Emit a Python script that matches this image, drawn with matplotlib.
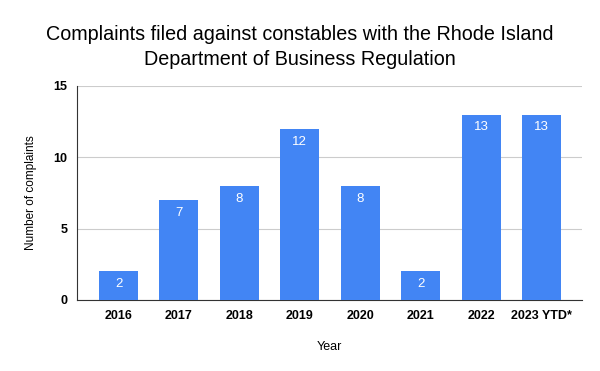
import matplotlib.pyplot as plt

years = ["2016", "2017", "2018", "2019", "2020", "2021", "2022", "2023 YTD*"]
complaints = [2, 7, 8, 12, 8, 2, 13, 13]

plt.rcParams['font.family'] = ['Liberation Sans', 'DejaVu Sans']

fig = plt.figure(figsize=(6, 3.71), dpi=100)
ax = fig.add_axes([77/600, 1-300/371, 505/600, 214/371])

x = range(len(years))
bars = ax.bar(x, complaints, width=0.645, color='#4285f4', zorder=3)
for b, v in zip(bars, complaints):
    ax.text(b.get_x() + b.get_width()/2, v - 0.9, str(v), ha='center', va='center',
            color='white', fontsize=9.5, zorder=4)

ax.set_xlim(-0.687, 7.67)
ax.set_ylim(0, 15)
ax.set_yticks([0, 5, 10, 15])
ax.set_xticks(list(x))
ax.set_xticklabels(years, fontweight='bold', fontsize=9)
for t in ax.get_yticklabels():
    t.set_fontweight('bold')
    t.set_fontsize(9)
ax.tick_params(length=0, pad=7)
ax.grid(axis='y', color='#cccccc', linewidth=0.8, zorder=0)
for s in ['top', 'right']:
    ax.spines[s].set_visible(False)
ax.spines['left'].set_color('#333333')
ax.spines['bottom'].set_color('#333333')

ax.set_xlabel("Year", fontsize=9, labelpad=14)
ax.set_ylabel("Number of complaints", fontsize=8.5, labelpad=12)

fig.text(0.5, 1-47/371, "Complaints filed against constables with the Rhode Island\nDepartment of Business Regulation",
         ha='center', va='center', fontsize=14.2, linespacing=1.38)

fig.savefig("out.png", dpi=100)
